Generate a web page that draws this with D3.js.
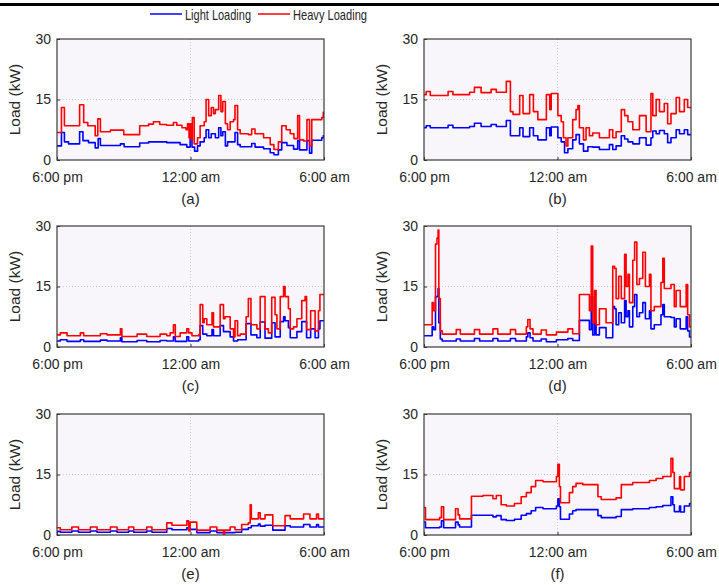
<!DOCTYPE html>
<html><head><meta charset="utf-8">
<script src="https://cdn.jsdelivr.net/npm/d3@7"></script>
<style>
html,body{margin:0;padding:0;background:#fff;}
svg{display:block;font-family:"Liberation Sans",Arial,Helvetica,sans-serif;}
</style></head>
<body><svg id="chart" width="719" height="585"></svg>
<script>
// time in minutes after 6:00 pm, load in kW
const seriesNames = ["Light Loading", "Heavy Loading"];
const timeTicks = [0, 360, 720];
const timeLabels = ["6:00 pm", "12:00 am", "6:00 am"];
const loadTicks = [0, 15, 30];
const panelLabels = ["(a)", "(b)", "(c)", "(d)", "(e)", "(f)"];

const aLight = [[0,3.5],[12,6.8],[20,4.5],[31,4.0],[61,7],[70,4.8],[85,4.3],[103,3],[111,5.3],[117,3.6],[171,4.0],[181,3.3],[223,4.2],[247,4.5],[296,4.3],[332,3.8],[350,3.2],[359,5.5],[364,3.2],[371,2.2],[379,3.5],[386,4.5],[397,5.5],[402,7.5],[409,5.5],[416,6.5],[427,5.5],[436,8],[442,6],[447,7],[454,3.5],[460,4.5],[480,6.8],[487,3.8],[494,3.3],[525,4.1],[534,3.2],[557,2.8],[575,1.8],[585,1.3],[597,2.5],[606,4.3],[620,3.6],[638,2.7],[649,4.8],[654,2.5],[674,4.8],[681,1.7],[687,4.9],[714,5.5],[718,6]];
const aHeavy = [[0,6.8],[12,13],[20,8.5],[61,13.7],[72,9.3],[83,8.5],[103,6],[110,10.2],[117,7],[144,7.4],[180,6.3],[223,8.5],[247,8.9],[260,9.5],[277,8.8],[296,8.6],[314,9.3],[323,8.6],[337,8.0],[348,7.5],[352,9],[356,5.5],[359,9],[362,5],[365,10.5],[370,4],[379,5.5],[386,8.5],[397,9.5],[402,15],[409,11],[416,13],[422,11.5],[427,12.5],[436,16],[442,12],[447,14.5],[454,9],[460,7.5],[467,9.5],[476,10],[480,13.5],[487,7.5],[494,6.5],[516,6.3],[525,7.7],[534,6.5],[557,5.5],[575,3.8],[585,2.6],[597,4.5],[606,8.5],[618,7.5],[629,6.5],[639,5.3],[649,11],[654,5],[665,4.7],[674,10],[681,3.5],[687,10],[714,10.5],[718,11.8]];

const bLight = [[0,8],[6,8.5],[17,8],[65,8.6],[78,8],[123,8.3],[136,9.1],[154,8.3],[181,8.8],[195,8.3],[222,9.8],[233,6],[258,8],[267,5.8],[285,8],[295,6],[307,5],[330,8],[339,6],[343,8.2],[361,5.5],[370,4.5],[379,1.8],[388,2.8],[401,5],[410,6.3],[419,4],[430,2.2],[442,3.3],[455,3.2],[473,2.6],[500,3.8],[509,2.6],[518,3.5],[532,6],[541,5.2],[550,4.5],[563,4],[581,5.5],[599,3.7],[612,5.5],[617,7.2],[626,6.5],[635,7.3],[648,6.5],[657,4.3],[666,5.5],[680,7.5],[689,6.5],[702,7.5],[711,6.3]];
const bHeavy = [[0,16.2],[6,17],[17,16],[65,17],[78,16.2],[123,16.8],[136,18],[154,16.7],[181,17.5],[195,16.8],[222,19.5],[233,12],[240,11.3],[258,16],[267,11.5],[285,16.2],[295,12],[307,10],[330,16.2],[339,12.5],[343,16.5],[361,11],[370,9.5],[376,5.5],[383,3.5],[388,5.5],[401,10],[410,12.5],[415,13.5],[419,8],[430,5],[437,8],[446,6],[455,6.7],[473,5.5],[500,7.5],[509,5.5],[518,7],[532,12.5],[541,11],[550,9.5],[563,7.5],[581,11],[599,7],[612,16.5],[617,11],[626,15],[635,12],[648,14],[657,9],[666,11.5],[680,15.5],[689,12],[702,15],[711,13]];

const cLight = [[0,1.5],[9,1.8],[27,1.4],[63,1.8],[72,1.4],[117,1.7],[135,1.5],[171,2.3],[175,1.3],[216,1.6],[242,1.3],[278,1.6],[296,1.5],[314,2.5],[319,1.4],[350,2.5],[355,1.5],[382,1.8],[386,5.3],[393,3.2],[404,2.8],[418,4.3],[422,2.8],[440,5.3],[449,3.8],[467,2.5],[476,1.5],[487,1.8],[510,5.8],[523,3],[539,2.3],[548,6.2],[561,2.2],[579,6],[588,2.5],[602,6.3],[611,7.5],[615,6.5],[624,4.8],[629,2.3],[647,3.8],[660,6.3],[673,2.3],[684,4.5],[696,2.3],[705,4.5],[709,6.5]];
const cHeavy = [[0,3],[9,3.5],[27,2.8],[63,3.5],[72,2.8],[117,3.3],[135,3],[171,4.5],[175,2.6],[216,3.2],[242,2.6],[278,3.2],[296,2.8],[305,3.5],[314,5.5],[319,2.6],[332,3.5],[350,4.5],[355,3.5],[364,2.8],[382,3],[386,10.5],[393,6],[397,7],[404,5.5],[418,8.5],[422,5],[440,10.5],[449,7],[453,7.5],[467,4.5],[476,2.5],[480,6.5],[487,2.8],[494,3.2],[510,7.5],[516,12],[523,5.5],[539,4.5],[548,12.5],[561,4.5],[570,3.5],[579,12.3],[588,8],[593,4.5],[602,12.5],[611,15],[615,12.5],[624,9.5],[629,4.5],[638,5],[647,7],[660,11.5],[669,12.5],[673,4.3],[684,9],[696,4],[705,9],[709,13]];

const dLight = [[0,2.8],[22,5],[26,4.3],[31,12.5],[38,14.5],[40,6],[44,2],[49,1.5],[87,2],[98,1.5],[136,2.1],[150,1.5],[186,2.1],[199,1.5],[233,2.1],[247,1.5],[276,2.5],[280,3.5],[286,2.3],[294,1.5],[316,2],[330,1.3],[357,1.8],[388,2.1],[401,1.6],[419,6.6],[446,4.3],[451,12.5],[455,3],[460,6.5],[464,3],[473,4.8],[491,2.3],[509,10],[514,9.5],[518,5.5],[525,8.5],[532,6],[541,11.5],[545,7.5],[550,9],[554,5],[563,10],[568,13],[574,7.5],[581,8.5],[590,11],[597,7],[608,9],[612,4.5],[621,5.5],[639,8],[644,10.5],[648,7.5],[666,7.3],[675,5],[680,7],[691,4.5],[707,7.5],[711,4],[716,2.5]];
const dHeavy = [[0,5.5],[22,11],[26,9],[31,25.5],[35,27],[38,29],[40,12],[44,4],[49,3.2],[87,4.3],[98,3.2],[136,4.3],[150,3.2],[186,4.5],[199,3.2],[233,4.3],[247,3.2],[276,5],[280,6.8],[286,4.5],[294,3.2],[316,4.2],[330,3.0],[357,3.7],[388,4.5],[401,3.3],[419,13],[446,9],[451,25],[455,6],[460,14],[464,5.5],[473,9.5],[491,6],[509,20],[514,19.5],[518,12],[525,17.5],[532,12],[541,23],[545,15],[550,18],[554,11],[563,21.5],[568,26],[574,15.5],[581,17],[590,23.5],[597,15],[608,18],[612,9],[621,10],[639,16],[644,22],[648,14.5],[666,15.5],[675,10],[680,14],[691,10],[707,15.5],[711,8],[716,5]];

const eLight = [[0,0.9],[9,0.7],[40,1],[58,0.7],[90,1],[108,0.7],[144,1],[162,0.7],[193,1],[207,0.7],[242,1],[256,0.7],[296,1.6],[310,1.3],[350,1.8],[355,1.4],[377,0.6],[413,1],[431,0.6],[480,0.7],[498,1.4],[516,1.8],[524,2.3],[543,2.7],[548,2.2],[561,2.4],[582,1.2],[615,2.3],[629,2],[665,2.6],[682,2],[700,2.6],[705,2]];
const eHeavy = [[0,1.8],[9,1.3],[40,2],[58,1.3],[90,2],[108,1.3],[144,2],[162,1.3],[193,2],[207,1.3],[242,2],[256,1.3],[296,3],[310,2.4],[350,3.5],[355,1],[359,3.2],[377,1.2],[413,2],[431,1.2],[449,0],[452,1.2],[467,2],[480,1.3],[498,2.6],[516,3],[521,7.5],[524,4],[543,5.5],[548,4],[561,5],[582,2.3],[615,4.8],[629,4],[665,5.2],[682,4],[700,5.2],[705,4]];

const fLight = [[0,3.2],[4,1.8],[42,2],[47,3.5],[53,1.8],[85,3.2],[92,2.5],[96,2],[128,4.9],[186,4.5],[195,4.8],[208,3.8],[222,3.6],[244,3.9],[262,4.9],[276,5.3],[289,6],[301,6.8],[321,6.5],[357,7.2],[361,9],[365,7],[368,3.9],[392,5.2],[401,6],[410,6.3],[469,4.8],[478,4.3],[518,4.6],[532,6.3],[563,6.5],[608,6.8],[626,7],[644,7.3],[666,9.5],[671,7.5],[675,5.8],[689,7.2],[692,5.7],[702,7.2],[716,7.8]];
const fHeavy = [[0,6.8],[4,3.8],[42,4.3],[47,7],[53,3.8],[85,6.5],[92,5],[96,4],[128,9.6],[159,9.8],[186,9],[195,9.8],[208,7.5],[222,7.2],[244,7.8],[262,9.5],[276,10.5],[289,12],[301,13.5],[321,13.2],[357,14.5],[361,17.5],[365,12],[368,8],[392,10.5],[401,12],[410,12.8],[428,12.5],[469,9.5],[478,8.8],[518,9.2],[532,12.5],[563,13],[608,13.5],[626,14],[644,14.5],[666,19],[671,15.5],[675,11.5],[689,14.5],[692,11.2],[702,14.5],[716,15.5]];

const panelData = [
  [aLight, aHeavy], [bLight, bHeavy],
  [cLight, cHeavy], [dLight, dHeavy],
  [eLight, eHeavy], [fLight, fHeavy]
];
const colors = ["#0000ff", "#ff0000"];

const svg = d3.select("#chart");
const textColor = "#262626";

// top rule
svg.append("rect").attr("x", 0).attr("y", 3).attr("width", 719).attr("height", 3).attr("fill", "#000");

// legend
const legendItems = [
  {x1: 150, x2: 182, tx: 185, tw: 66},
  {x1: 258, x2: 290, tx: 293, tw: 74}
];
legendItems.forEach((l, i) => {
  svg.append("line").attr("x1", l.x1).attr("x2", l.x2).attr("y1", 14).attr("y2", 14)
    .attr("stroke", colors[i]).attr("stroke-width", 1.5);
  svg.append("text").attr("x", l.tx).attr("y", 19.5).attr("font-size", 14.5)
    .attr("fill", textColor).attr("textLength", l.tw).attr("lengthAdjust", "spacingAndGlyphs")
    .text(seriesNames[i]);
});

const cols = [57, 424];
const rows = [39, 226, 414];
const W = 267, H = 121;

panelData.forEach((series, idx) => {
  const left = cols[idx % 2], top = rows[Math.floor(idx / 2)];
  const g = svg.append("g").attr("transform", `translate(${left},${top})`);
  const x = d3.scaleLinear().domain([0, 720]).range([0, W]);
  const y = d3.scaleLinear().domain([0, 30]).range([H, 0]);

  g.append("rect").attr("width", W).attr("height", H).attr("fill", "#f8f6fb");

  // grid
  g.append("g").selectAll("line").data(loadTicks.filter(v => v > 0 && v < 30)).join("line")
    .attr("x1", 0).attr("x2", W).attr("y1", d => y(d)).attr("y2", d => y(d))
    .attr("stroke", "#c8c8c8").attr("stroke-width", 1).attr("stroke-dasharray", "1,2");
  g.append("g").selectAll("line").data(timeTicks.filter(v => v > 0 && v < 720)).join("line")
    .attr("y1", 0).attr("y2", H).attr("x1", d => x(d)).attr("x2", d => x(d))
    .attr("stroke", "#c8c8c8").attr("stroke-width", 1).attr("stroke-dasharray", "1,2");

  const clipId = "clip" + idx;
  g.append("clipPath").attr("id", clipId).append("rect").attr("width", W).attr("height", H);

  const line = d3.line().x(d => x(d[0])).y(d => y(d[1])).curve(d3.curveStepAfter);
  series.forEach((s, si) => {
    const pts = s.concat([[720, s[s.length - 1][1]]]);
    g.append("path").datum(pts).attr("d", line).attr("fill", "none")
      .attr("stroke", colors[si]).attr("stroke-width", 1.6)
      .attr("stroke-linejoin", "round").attr("clip-path", `url(#${clipId})`);
  });

  // axes (ticks inward)
  const xAxis = d3.axisBottom(x).tickValues(timeTicks).tickFormat((d, i) => timeLabels[i])
    .tickSizeInner(-3).tickSizeOuter(0).tickPadding(12);
  const yAxis = d3.axisLeft(y).tickValues(loadTicks).tickSizeInner(-3).tickSizeOuter(0).tickPadding(6);
  const gx = g.append("g").attr("transform", `translate(0,${H})`).call(xAxis);
  const gy = g.append("g").call(yAxis);
  [gx, gy].forEach(a => {
    a.select(".domain").remove();
    a.selectAll(".tick line").attr("stroke", "#333").attr("stroke-width", 1);
    a.selectAll("text").attr("font-size", 14).attr("fill", textColor)
      .attr("font-family", "'Liberation Sans', Arial, sans-serif");
  });

  // frame
  g.append("rect").attr("width", W).attr("height", H).attr("fill", "none")
    .attr("stroke", "#3a3a3a").attr("stroke-width", 1.2);

  // y label
  g.append("text").attr("transform", `translate(-37,${H / 2}) rotate(-90)`)
    .attr("text-anchor", "middle").attr("font-size", 15.5).attr("fill", textColor)
    .text("Load (kW)");

  // panel label
  g.append("text").attr("x", W / 2).attr("y", H + 44).attr("text-anchor", "middle")
    .attr("font-size", 15).attr("fill", textColor).text(panelLabels[idx]);
});
</script></body></html>
